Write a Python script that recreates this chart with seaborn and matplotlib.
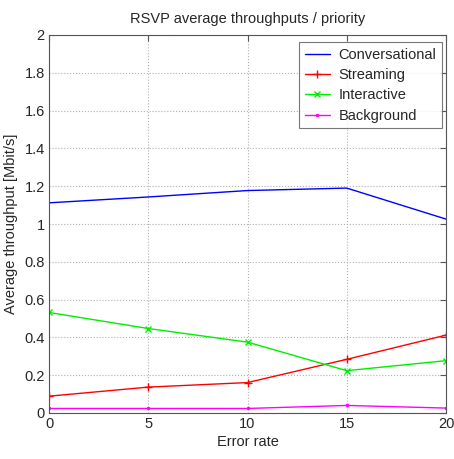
import matplotlib
matplotlib.use("Agg")
import matplotlib.pyplot as plt
import seaborn as sns
import pandas as pd

error_rate = [0, 5, 10, 15, 20]
conversational = [1.112, 1.143, 1.177, 1.190, 1.026]
streaming = [0.089, 0.137, 0.161, 0.284, 0.412]
interactive = [0.532, 0.447, 0.375, 0.224, 0.277]
background = [0.024, 0.024, 0.024, 0.040, 0.026]
series_names = ["Conversational", "Streaming", "Interactive", "Background"]

sns.set_style("white")
plt.rcParams['font.family'] = ['Liberation Sans', 'DejaVu Sans']

rows = []
for name, vals in zip(series_names, [conversational, streaming, interactive, background]):
    for x, v in zip(error_rate, vals):
        rows.append({"Error rate": x, "value": v, "series": name})
df = pd.DataFrame(rows)

fig = plt.figure(figsize=(4.54, 4.59), dpi=100)
ax = fig.add_axes([49/454, 1-413/459, (446-49)/454, (413-35)/459])

palette = {"Conversational": "#0000ff", "Streaming": "#ff0000",
           "Interactive": "#00ee00", "Background": "#ff00ff"}
markers = {"Conversational": "None", "Streaming": "+", "Interactive": "x", "Background": "."}
msize = {"Conversational": 0, "Streaming": 6, "Interactive": 4, "Background": 3}
for name in series_names:
    sub = df[df.series == name]
    sns.lineplot(data=sub, x="Error rate", y="value", ax=ax, color=palette[name],
                 linewidth=1, label=name)
    ln = ax.lines[-1]
    ln.set_linestyle('-')
    ln.set_marker(markers[name])
    ln.set_markersize(msize[name])
    ln.set_markeredgewidth(1)
    ln.set_markeredgecolor(palette[name])
    ln.set_markerfacecolor(palette[name])

fs = 10.5
ax.set_xlim(0, 20)
ax.set_ylim(0, 2)
ax.set_xticks([0, 5, 10, 15, 20])
ax.set_yticks([0, 0.2, 0.4, 0.6, 0.8, 1.0, 1.2, 1.4, 1.6, 1.8, 2.0])
ax.set_yticklabels(["0", "0.2", "0.4", "0.6", "0.8", "1", "1.2", "1.4", "1.6", "1.8", "2"])
ax.grid(True, linestyle=':', color='#b0b0b0', linewidth=0.8)
ax.tick_params(direction='in', length=4, labelsize=fs, top=True, right=True, color='#555555', pad=3)
for s in ax.spines.values():
    s.set_color('#555555')
    s.set_linewidth(0.8)
ax.set_xlabel("Error rate", fontsize=fs, labelpad=3)
ax.set_ylabel("Average throughput [Mbit/s]", fontsize=fs, labelpad=5)
ax.set_title("RSVP average throughputs / priority", fontsize=fs, pad=9)
leg = ax.legend(loc='upper right', bbox_to_anchor=(1 - 4/397, 1 - 7/378),
                fontsize=fs, frameon=True, fancybox=False,
                borderpad=0.4, labelspacing=0.43, handlelength=1.7, handletextpad=0.6,
                borderaxespad=0)
leg.get_frame().set_edgecolor('#555555')
leg.get_frame().set_linewidth(0.8)

fig.savefig("out.png", dpi=100)
